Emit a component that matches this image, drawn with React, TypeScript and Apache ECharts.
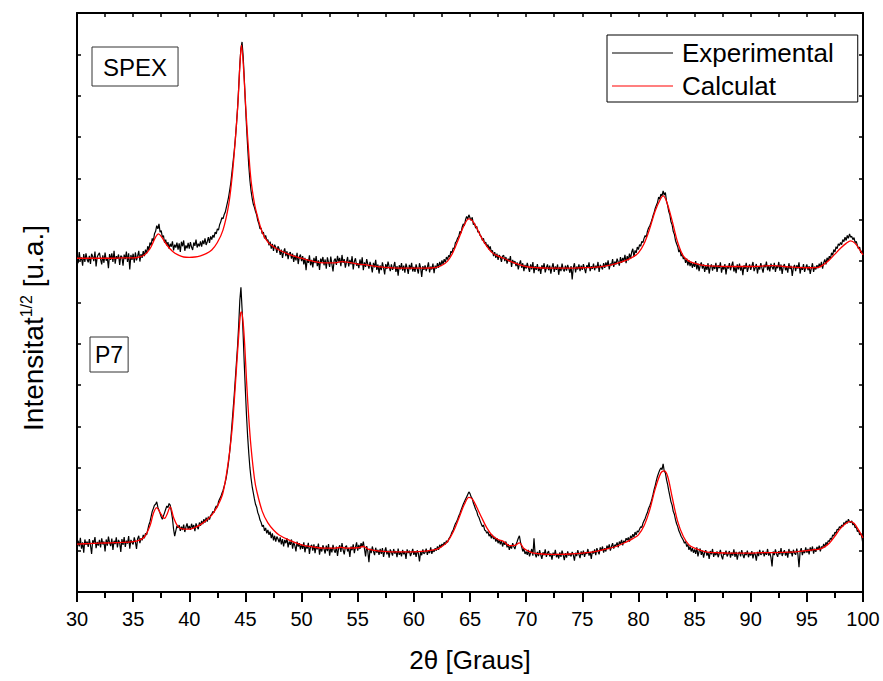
import React, { useEffect, useRef } from "react";
import * as echarts from "echarts";

const FONT = "'Liberation Sans', Arial, Helvetica, sans-serif";

// 2θ sampling of the measured patterns
const angleStart = 30;
const angleStep = 0.1;

// SPEX measured pattern (sqrt intensity, arbitrary units), 30.0 .. 100.0 step 0.1
const spexExperimental = [
  8.15, 7.95, 8.22, 8.02, 8.09, 7.89, 8.17, 7.98, 8.19, 8.04,
  7.97, 8.13, 7.93, 8.18, 8.11, 8.00, 8.23, 7.87, 8.10, 8.16,
  8.20, 8.05, 7.92, 8.14, 7.96, 8.21, 8.01, 8.08, 7.83, 8.17,
  8.03, 8.19, 7.98, 8.25, 7.94, 8.12, 8.06, 8.16, 7.91, 8.13,
  8.10, 7.89, 8.16, 8.05, 8.23, 7.98, 8.19, 7.80, 8.15, 8.03,
  8.18, 7.96, 8.21, 8.02, 8.12, 8.25, 7.99, 8.17, 8.08, 8.24,
  8.12, 8.28, 8.19, 8.36, 8.27, 8.45, 8.38, 8.55, 8.49, 8.66,
  8.72, 8.86, 8.78, 8.90, 8.70, 8.74, 8.58, 8.62, 8.45, 8.52,
  8.38, 8.46, 8.30, 8.42, 8.35, 8.48, 8.26, 8.40, 8.33, 8.45,
  8.28, 8.43, 8.22, 8.47, 8.36, 8.50, 8.25, 8.38, 8.31, 8.44,
  8.30, 8.46, 8.34, 8.27, 8.45, 8.37, 8.52, 8.33, 8.42, 8.36,
  8.48, 8.35, 8.50, 8.41, 8.55, 8.39, 8.47, 8.58, 8.44, 8.60,
  8.52, 8.63, 8.57, 8.70, 8.66, 8.78, 8.75, 8.88, 8.95, 9.05,
  9.02, 9.12, 9.18, 9.30, 9.42, 9.55, 9.72, 9.90, 10.15, 10.40,
  10.65, 10.95, 11.30, 11.70, 12.20, 12.75, 13.15, 13.30, 12.95, 12.40,
  11.80, 11.25, 10.75, 10.30, 9.95, 9.70, 9.52, 9.38, 9.30, 9.20,
  9.12, 8.98, 8.90, 8.78, 8.80, 8.66, 8.70, 8.55, 8.62, 8.50,
  8.52, 8.38, 8.47, 8.30, 8.42, 8.25, 8.40, 8.33, 8.20, 8.36,
  8.30, 8.15, 8.28, 8.08, 8.22, 8.31, 8.12, 8.24, 8.05, 8.19,
  8.22, 8.06, 8.18, 7.98, 8.14, 8.02, 8.20, 7.93, 8.10, 8.16,
  8.00, 8.12, 7.92, 8.08, 7.78, 8.05, 7.96, 8.14, 7.90, 8.03,
  7.85, 8.08, 7.95, 8.12, 7.88, 8.02, 7.79, 8.06, 7.98, 8.10,
  7.90, 8.04, 7.82, 8.09, 7.97, 7.86, 8.11, 7.93, 7.75, 8.02,
  8.06, 7.91, 8.13, 7.99, 8.08, 7.88, 8.15, 7.96, 8.05, 7.84,
  7.98, 8.10, 7.87, 8.03, 7.92, 8.12, 7.80, 7.99, 8.07, 7.89,
  7.95, 7.83, 8.04, 7.90, 8.09, 7.78, 7.97, 7.86, 8.05, 7.92,
  7.82, 7.98, 7.88, 7.73, 7.96, 7.85, 8.03, 7.79, 7.92, 7.70,
  7.90, 7.78, 7.97, 7.84, 7.68, 7.93, 7.81, 7.99, 7.87, 7.76,
  7.92, 7.79, 7.86, 7.98, 7.74, 7.88, 7.65, 7.90, 7.80, 7.95,
  7.77, 7.89, 7.72, 7.94, 7.83, 7.69, 7.91, 7.80, 7.96, 7.75,
  7.86, 7.74, 7.92, 7.81, 7.70, 7.95, 7.84, 7.62, 7.88, 7.79,
  7.90, 7.76, 7.85, 7.97, 7.73, 7.87, 7.80, 7.94, 7.71, 7.89,
  7.82, 7.95, 7.84, 7.98, 7.88, 8.02, 7.92, 8.05, 7.97, 8.10,
  8.04, 8.14, 8.10, 8.24, 8.20, 8.32, 8.30, 8.45, 8.48, 8.56,
  8.60, 8.72, 8.68, 8.82, 8.90, 8.86, 9.00, 9.08, 9.02, 9.12,
  9.05, 8.98, 9.06, 8.88, 8.92, 8.80, 8.84, 8.70, 8.72, 8.62,
  8.60, 8.50, 8.55, 8.42, 8.46, 8.35, 8.40, 8.28, 8.36, 8.22,
  8.26, 8.12, 8.22, 8.08, 8.18, 8.03, 8.15, 8.10, 7.98, 8.12,
  8.14, 8.00, 8.10, 7.94, 8.06, 7.99, 8.12, 7.86, 8.03, 7.95,
  8.00, 7.88, 7.97, 7.80, 7.93, 8.02, 7.84, 7.95, 7.76, 7.91,
  7.82, 7.96, 7.85, 7.74, 7.92, 7.80, 7.98, 7.71, 7.88, 7.79,
  7.93, 7.76, 7.86, 7.69, 7.90, 7.81, 7.95, 7.73, 7.84, 7.92,
  7.78, 7.89, 7.70, 7.85, 7.95, 7.74, 7.87, 7.79, 7.92, 7.67,
  7.86, 7.76, 7.94, 7.80, 7.75, 7.89, 7.77, 7.91, 7.82, 7.72,
  7.88, 7.56, 7.84, 7.95, 7.73, 7.87, 7.80, 7.92, 7.76, 7.89,
  7.79, 7.93, 7.82, 7.71, 7.90, 7.84, 7.97, 7.76, 7.88, 7.81,
  7.94, 7.78, 7.89, 7.83, 7.98, 7.74, 7.91, 7.86, 7.80, 7.95,
  7.84, 7.97, 7.88, 8.02, 7.80, 7.94, 7.90, 8.05, 7.86, 7.99,
  7.92, 8.06, 7.98, 7.89, 8.10, 7.96, 8.08, 8.00, 8.15, 7.95,
  8.12, 8.02, 8.18, 8.06, 8.22, 8.30, 8.10, 8.26, 8.20, 8.34,
  8.28, 8.40, 8.36, 8.48, 8.45, 8.55, 8.62, 8.58, 8.72, 8.80,
  8.85, 8.92, 9.00, 9.10, 9.18, 9.28, 9.35, 9.42, 9.55, 9.50,
  9.62, 9.58, 9.70, 9.60, 9.66, 9.45, 9.35, 9.20, 9.12, 8.95,
  8.88, 8.72, 8.65, 8.50, 8.42, 8.35, 8.22, 8.28, 8.12, 8.18,
  8.05, 8.10, 7.96, 8.06, 7.90, 8.02, 7.88, 7.98, 7.84, 7.95,
  7.86, 8.00, 7.80, 7.94, 7.76, 7.90, 7.97, 7.82, 7.92, 7.74,
  7.88, 7.79, 7.95, 7.70, 7.86, 7.92, 7.77, 7.89, 7.81, 7.96,
  7.74, 7.90, 7.83, 7.97, 7.72, 7.87, 7.80, 7.93, 7.68, 7.88,
  7.82, 7.95, 7.78, 7.89, 7.99, 7.75, 7.86, 7.71, 7.92, 7.80,
  7.94, 7.77, 7.88, 7.66, 7.90, 7.81, 7.96, 7.74, 7.85, 7.92,
  7.79, 7.88, 7.98, 7.76, 7.84, 7.93, 7.70, 7.87, 7.80, 7.95,
  7.83, 7.72, 7.91, 7.85, 7.99, 7.78, 7.89, 7.75, 7.94, 7.86,
  7.80, 7.96, 7.74, 7.88, 7.83, 7.98, 7.77, 7.92, 7.69, 7.87,
  7.93, 7.78, 7.86, 7.72, 7.95, 7.81, 7.89, 7.64, 7.84, 7.91,
  7.76, 7.90, 7.82, 7.97, 7.70, 7.86, 7.79, 7.93, 7.74, 7.85,
  7.92, 7.78, 7.88, 7.69, 7.83, 7.95, 7.74, 7.87, 7.80, 7.90,
  7.83, 7.94, 7.86, 7.98, 7.82, 7.96, 8.04, 7.92, 8.08, 8.01,
  8.12, 8.06, 8.20, 8.14, 8.28, 8.22, 8.35, 8.30, 8.42, 8.38,
  8.45, 8.40, 8.52, 8.47, 8.58, 8.50, 8.62, 8.55, 8.66, 8.58,
  8.60, 8.52, 8.57, 8.45, 8.48, 8.38, 8.30, 8.34, 8.20, 8.25,
  8.12,
];

// P7 measured pattern, 30.0 .. 100.0 step 0.1
const p7Experimental = [
  1.02, 1.24, 1.10, 1.31, 1.05, 1.20, 0.95, 1.27, 1.14, 1.22,
  1.09, 1.28, 1.13, 0.92, 1.25, 1.18, 1.33, 1.06, 1.21, 1.12,
  1.26, 1.08, 1.30, 1.15, 1.22, 0.98, 1.27, 1.12, 1.34, 1.19,
  1.11, 1.29, 1.02, 1.24, 1.16, 1.32, 1.08, 1.26, 1.19, 0.97,
  1.28, 1.14, 1.33, 1.09, 1.24, 1.17, 1.35, 1.05, 1.26, 1.20,
  1.15, 1.32, 1.21, 1.04, 1.29, 1.36, 1.18, 1.30, 1.25, 1.38,
  1.30, 1.42, 1.38, 1.50, 1.62, 1.70, 1.82, 1.95, 2.02, 2.10,
  2.12, 2.18, 2.05, 1.98, 1.90, 1.82, 1.76, 1.84, 1.92, 2.00,
  2.08, 2.04, 2.14, 2.10, 1.95, 1.78, 1.52, 1.35, 1.48, 1.60,
  1.55, 1.62, 1.48, 1.58, 1.50, 1.63, 1.45, 1.57, 1.66, 1.52,
  1.60, 1.50, 1.65, 1.55, 1.62, 1.47, 1.66, 1.58, 1.52, 1.68,
  1.60, 1.72, 1.64, 1.76, 1.68, 1.80, 1.70, 1.82, 1.75, 1.85,
  1.88, 1.95, 1.92, 2.02, 2.08, 2.05, 2.18, 2.25, 2.30, 2.38,
  2.45, 2.55, 2.65, 2.78, 2.95, 3.15, 3.40, 3.70, 4.05, 4.40,
  4.75, 5.15, 5.55, 5.95, 6.45, 7.05, 7.37, 6.85, 6.20, 5.50,
  4.85, 4.25, 3.75, 3.35, 3.00, 2.75, 2.55, 2.40, 2.25, 2.12,
  2.05, 1.92, 1.85, 1.74, 1.68, 1.58, 1.62, 1.48, 1.55, 1.42,
  1.50, 1.38, 1.46, 1.30, 1.42, 1.25, 1.36, 1.22, 1.34, 1.28,
  1.20, 1.32, 1.15, 1.28, 1.10, 1.26, 1.18, 1.30, 1.08, 1.22,
  1.14, 1.27, 1.05, 1.20, 1.12, 0.98, 1.22, 1.10, 1.18, 1.03,
  1.16, 1.04, 1.20, 0.96, 1.12, 1.05, 1.19, 0.92, 1.10, 1.14,
  1.00, 1.15, 0.94, 1.11, 1.03, 1.17, 0.90, 1.08, 0.98, 1.13,
  1.04, 0.93, 1.12, 0.99, 1.16, 0.88, 1.07, 0.96, 1.14, 1.01,
  0.95, 1.10, 0.87, 1.06, 1.13, 0.97, 1.18, 1.02, 0.91, 1.09,
  1.12, 0.98, 1.06, 0.85, 1.10, 1.01, 1.15, 0.94, 1.08, 1.20,
  1.00, 1.14, 1.04, 1.18, 1.09, 1.22, 1.05, 0.86, 1.11, 0.98,
  0.72, 1.05, 0.94, 1.10, 0.99, 0.89, 1.07, 0.95, 1.02, 0.90,
  1.04, 0.92, 1.06, 0.85, 0.98, 1.08, 0.91, 1.00, 0.83, 1.03,
  0.96, 0.88, 1.04, 0.93, 0.99, 0.84, 1.05, 0.90, 0.97, 0.86,
  1.02, 0.91, 0.98, 0.80, 1.03, 0.94, 1.00, 0.87, 0.95, 1.04,
  0.90, 0.99, 0.85, 1.01, 0.93, 0.74, 0.97, 0.89, 1.03, 0.92,
  0.96, 1.05, 0.90, 1.00, 0.94, 1.08, 0.92, 1.02, 0.97, 1.06,
  1.00, 1.10, 1.02, 1.14, 1.08, 1.16, 1.12, 1.20, 1.15, 1.24,
  1.20, 1.28, 1.32, 1.38, 1.45, 1.50, 1.58, 1.65, 1.70, 1.76,
  1.84, 1.90, 1.98, 2.05, 2.12, 2.18, 2.24, 2.30, 2.36, 2.42,
  2.38, 2.30, 2.26, 2.15, 2.08, 2.00, 1.95, 1.85, 1.80, 1.72,
  1.65, 1.58, 1.62, 1.50, 1.48, 1.42, 1.46, 1.35, 1.40, 1.30,
  1.38, 1.28, 1.33, 1.22, 1.30, 1.18, 1.26, 1.15, 1.24, 1.10,
  1.20, 1.14, 1.22, 1.08, 1.16, 1.02, 1.12, 1.05, 1.18, 1.10,
  1.04, 1.15, 1.22, 1.30, 1.36, 1.20, 1.10, 0.98, 1.05, 0.92,
  0.98, 0.90, 1.02, 0.86, 0.95, 1.04, 0.88, 1.30, 0.92, 0.84,
  0.97, 0.87, 1.01, 0.90, 0.80, 0.96, 0.89, 1.03, 0.85, 0.94,
  0.99, 0.86, 0.93, 0.78, 0.95, 0.88, 1.02, 0.84, 0.92, 0.81,
  0.96, 0.85, 1.00, 0.89, 0.77, 0.94, 0.83, 0.98, 0.88, 0.93,
  0.86, 0.97, 0.90, 0.76, 0.95, 0.87, 1.01, 0.91, 0.82, 0.98,
  0.89, 1.00, 0.85, 0.96, 0.92, 1.04, 0.88, 0.97, 0.80, 0.99,
  0.93, 1.03, 0.89, 1.06, 0.98, 0.91, 1.08, 1.00, 1.10, 0.95,
  1.06, 0.98, 1.12, 1.04, 1.15, 1.00, 1.10, 1.18, 1.05, 1.14,
  1.12, 1.20, 1.08, 1.22, 1.16, 1.26, 1.13, 1.24, 1.19, 1.30,
  1.25, 1.32, 1.22, 1.36, 1.30, 1.40, 1.33, 1.45, 1.38, 1.48,
  1.45, 1.52, 1.58, 1.56, 1.66, 1.72, 1.78, 1.86, 1.92, 2.02,
  2.08, 2.15, 2.25, 2.36, 2.48, 2.58, 2.70, 2.80, 2.88, 2.95,
  3.00, 2.96, 3.10, 2.92, 2.88, 2.72, 2.60, 2.45, 2.32, 2.18,
  2.10, 1.95, 1.88, 1.75, 1.65, 1.58, 1.48, 1.42, 1.35, 1.30,
  1.25, 1.18, 1.22, 1.10, 1.15, 1.02, 1.10, 0.98, 1.06, 0.95,
  1.03, 0.92, 1.08, 0.86, 0.98, 1.05, 0.90, 1.00, 0.83, 0.96,
  1.01, 0.88, 0.96, 0.80, 0.99, 0.91, 1.04, 0.85, 0.95, 0.89,
  0.98, 0.84, 0.93, 1.02, 0.87, 0.79, 0.96, 0.90, 1.00, 0.86,
  0.92, 0.99, 0.83, 0.95, 0.88, 1.03, 0.85, 0.97, 0.78, 0.93,
  0.97, 0.86, 1.01, 0.90, 0.82, 0.96, 0.89, 1.00, 0.84, 0.94,
  0.88, 0.99, 0.81, 0.95, 0.91, 0.76, 0.97, 0.87, 1.02, 0.90,
  0.93, 1.00, 0.86, 0.97, 0.90, 1.04, 0.88, 0.96, 0.84, 0.62,
  0.98, 0.89, 1.03, 0.92, 0.85, 0.99, 0.91, 1.06, 0.87, 0.95,
  1.01, 0.88, 0.97, 0.83, 1.04, 0.93, 0.99, 0.86, 1.02, 0.94,
  0.90, 1.05, 0.92, 0.60, 0.98, 1.06, 0.89, 1.00, 0.94, 1.08,
  0.95, 1.04, 0.91, 1.08, 0.99, 1.10, 0.93, 1.05, 0.97, 1.09,
  1.02, 1.12, 0.98, 1.10, 1.06, 1.16, 1.08, 1.20, 1.14, 1.24,
  1.22, 1.30, 1.27, 1.38, 1.35, 1.45, 1.42, 1.52, 1.50, 1.58,
  1.55, 1.62, 1.58, 1.68, 1.64, 1.72, 1.66, 1.76, 1.70, 1.68,
  1.72, 1.62, 1.66, 1.55, 1.58, 1.46, 1.50, 1.38, 1.42, 1.32,
  1.15,
];

// Calculated (fitted) profiles: [2θ, value]
const spexCalculated = [
  [30, 8.07], [31, 8.07], [32, 8.07], [33, 8.07], [34, 8.08], [35, 8.08], [35.5, 8.1],
  [36, 8.15], [36.5, 8.3], [37, 8.58], [37.25, 8.66], [37.5, 8.6], [38, 8.39], [38.5, 8.24],
  [39, 8.15], [39.5, 8.1], [40, 8.09], [40.5, 8.1], [41, 8.13], [41.5, 8.18], [42, 8.27],
  [42.5, 8.45], [43, 8.75], [43.5, 9.35], [43.8, 10.0], [44.0, 10.6], [44.2, 11.3],
  [44.35, 11.9], [44.5, 12.7], [44.65, 13.22], [44.8, 12.8], [44.95, 12.1], [45.1, 11.4],
  [45.3, 10.6], [45.5, 9.95], [45.8, 9.4], [46.0, 9.16], [46.5, 8.7], [47, 8.46],
  [47.5, 8.35], [48, 8.27], [49, 8.15], [50, 8.07], [51, 8.0], [52, 7.96], [53, 7.96],
  [53.6, 7.99], [54.2, 7.97], [55, 7.93], [56, 7.9], [57, 7.86], [58, 7.84], [59, 7.83],
  [60, 7.83], [61, 7.83], [62, 7.85], [62.5, 7.9], [63, 8.0], [63.5, 8.22], [64, 8.55],
  [64.5, 8.88], [64.9, 9.02], [65.2, 8.98], [65.6, 8.8], [66, 8.58], [66.5, 8.36],
  [67, 8.2], [67.5, 8.12], [68, 8.07], [69, 7.95], [70, 7.87], [71, 7.84], [72, 7.83],
  [73, 7.83], [74, 7.83], [75, 7.84], [76, 7.85], [77, 7.88], [78, 7.94], [79, 8.03],
  [79.5, 8.1], [80, 8.2], [80.5, 8.42], [81, 8.78], [81.5, 9.22], [82, 9.52],
  [82.2, 9.58], [82.5, 9.45], [83, 8.98], [83.5, 8.45], [84, 8.12], [84.5, 8.0], [85, 7.95],
  [86, 7.89], [87, 7.88], [88, 7.87], [89, 7.87], [90, 7.87], [91, 7.88], [92, 7.89],
  [93, 7.87], [94, 7.85], [95, 7.84], [96, 7.85], [96.5, 7.92], [97, 8.03], [97.5, 8.17],
  [98, 8.31], [98.5, 8.43], [98.9, 8.49], [99.3, 8.43], [99.7, 8.28], [100, 8.15],
];

const p7Calculated = [
  [30, 1.16], [31, 1.17], [32, 1.18], [33, 1.19], [34, 1.2], [35, 1.22], [35.5, 1.25],
  [36, 1.33], [36.5, 1.6], [36.8, 1.9], [37.1, 2.04], [37.4, 1.92], [37.8, 1.78],
  [38.05, 1.9], [38.3, 2.06], [38.6, 1.8], [39, 1.58], [39.5, 1.52], [40, 1.52],
  [40.5, 1.56], [41, 1.63], [41.5, 1.73], [42, 1.86], [42.5, 2.07], [43, 2.4], [43.5, 3.2],
  [43.8, 3.9], [44.0, 4.6], [44.2, 5.4], [44.4, 6.2], [44.55, 6.7], [44.65, 6.77],
  [44.8, 6.5], [44.95, 5.9], [45.1, 5.1], [45.3, 4.2], [45.5, 3.5], [45.8, 2.75],
  [46, 2.45], [46.5, 1.95], [47, 1.67], [47.5, 1.5], [48, 1.38], [49, 1.24], [50, 1.14],
  [51, 1.09], [52, 1.06], [53, 1.06], [53.5, 1.08], [54, 1.06], [55, 1.07], [55.5, 1.1],
  [56, 1.03], [57, 0.99], [58, 0.97], [59, 0.97], [60, 0.97], [61, 0.99], [62, 1.03],
  [62.5, 1.1], [63, 1.22], [63.5, 1.45], [64, 1.78], [64.5, 2.12], [64.9, 2.29],
  [65.2, 2.25], [65.6, 2.05], [66, 1.82], [66.5, 1.55], [67, 1.36], [67.5, 1.27],
  [68, 1.22], [68.5, 1.12], [69, 1.13], [69.4, 1.19], [69.8, 1.05], [70.5, 0.95],
  [71, 0.93], [72, 0.91], [73, 0.91], [74, 0.92], [75, 0.94], [76, 0.97], [77, 1.03],
  [78, 1.1], [79, 1.22], [79.5, 1.29], [80, 1.38], [80.5, 1.6], [81, 1.98], [81.5, 2.5],
  [82, 2.88], [82.3, 2.93], [82.6, 2.8], [83, 2.3], [83.5, 1.7], [84, 1.34], [84.5, 1.14],
  [85, 1.06], [86, 0.97], [87, 0.95], [88, 0.94], [89, 0.94], [90, 0.94], [91, 0.95],
  [92, 0.95], [93, 0.96], [94, 0.97], [95, 1.0], [95.5, 1.02], [96, 1.03], [96.5, 1.08],
  [97, 1.18], [97.5, 1.35], [98, 1.54], [98.5, 1.66], [98.8, 1.7], [99.2, 1.66],
  [99.6, 1.5], [100, 1.31],
];

const xTickLabels = ["30", "35", "40", "45", "50", "55", "60", "65", "70", "75", "80", "85", "90", "95", "100"];
const legendNames = ["Experimental", "Calculat"];
const sampleLabels = ["SPEX", "P7"];

function toPairs(values: number[]) {
  return values.map((v, i) => [+(angleStart + i * angleStep).toFixed(2), v]);
}

export default function App() {
  const ref = useRef<HTMLDivElement>(null);

  useEffect(() => {
    if (!ref.current) return;
    const chart = echarts.init(ref.current, null, { renderer: "svg" });

    const axisLine = { show: true, onZero: false, lineStyle: { color: "#000", width: 2 } };
    const innerTick = { show: true, inside: true, length: 4, lineStyle: { color: "#000", width: 1.5 } };

    const option: any = {
      animation: false,
      backgroundColor: "#fff",
      grid: { left: 77, top: 13, right: 20, bottom: 89, containLabel: false },
      legend: {
        left: 607,
        top: 35,
        orient: "vertical",
        data: legendNames.map((n) => ({ name: n, icon: "rect" })),
        itemWidth: 61,
        itemHeight: 1.2,
        itemGap: 7,
        padding: [5, 24, 3, 5],
        borderColor: "#000",
        borderWidth: 1,
        selectedMode: false,
        textStyle: { fontSize: 26, color: "#000", fontFamily: FONT, lineHeight: 26, padding: [0, 0, 0, 4] },
      },
      xAxis: [
        {
          type: "value",
          position: "bottom",
          min: 30,
          max: 100,
          interval: 5,
          axisLine,
          axisTick: { show: true, inside: false, length: 10, lineStyle: { color: "#000", width: 2 } },
          minorTick: { show: true, splitNumber: 2, length: 6, lineStyle: { color: "#000", width: 2 } },
          splitLine: { show: false },
          minorSplitLine: { show: false },
          axisLabel: {
            show: true,
            margin: 17,
            color: "#000",
            fontSize: 20,
            fontFamily: FONT,
            formatter: (v: number) => {
              const idx = Math.round((v - 30) / 5);
              return xTickLabels[idx] ?? "";
            },
          },
          name: "2θ [Graus]",
          nameLocation: "middle",
          nameGap: 55,
          nameTextStyle: { fontSize: 26, color: "#000", fontFamily: FONT },
        },
        {
          type: "value",
          position: "top",
          min: 30,
          max: 100,
          interval: 2.5,
          axisLine,
          axisTick: innerTick,
          axisLabel: { show: false },
          splitLine: { show: false },
        },
      ],
      yAxis: [
        {
          type: "value",
          position: "left",
          min: 0,
          max: 14,
          interval: 1,
          axisLine,
          axisTick: innerTick,
          axisLabel: { show: false },
          splitLine: { show: false },
        },
        {
          type: "value",
          position: "right",
          min: 0,
          max: 14,
          interval: 1,
          axisLine,
          axisTick: innerTick,
          axisLabel: { show: false },
          splitLine: { show: false },
        },
      ],
      series: [
        {
          name: legendNames[0],
          type: "line",
          data: toPairs(spexExperimental),
          symbol: "none",
          lineStyle: { color: "#000", width: 1.2 },
          itemStyle: { color: "#000" },
        },
        {
          name: legendNames[1],
          type: "line",
          data: spexCalculated,
          symbol: "none",
          smooth: 0.35,
          lineStyle: { color: "#ff0000", width: 1.3 },
          itemStyle: { color: "#ff0000" },
        },
        {
          name: legendNames[0],
          type: "line",
          data: toPairs(p7Experimental),
          symbol: "none",
          lineStyle: { color: "#000", width: 1.2 },
          itemStyle: { color: "#000" },
        },
        {
          name: legendNames[1],
          type: "line",
          data: p7Calculated,
          symbol: "none",
          smooth: 0.35,
          lineStyle: { color: "#ff0000", width: 1.3 },
          itemStyle: { color: "#ff0000" },
        },
      ],
      graphic: [
        {
          type: "text",
          x: 92,
          y: 47,
          style: {
            text: sampleLabels[0],
            fontSize: 24,
            fontFamily: FONT,
            fill: "#000",
            align: "left",
            verticalAlign: "top",
            borderColor: "#333",
            borderWidth: 1,
            padding: [8, 11, 7, 11],
            lineHeight: 24,
          },
        },
        {
          type: "text",
          x: 90,
          y: 337,
          style: {
            text: sampleLabels[1],
            fontSize: 23,
            fontFamily: FONT,
            fill: "#000",
            align: "left",
            verticalAlign: "top",
            borderColor: "#333",
            borderWidth: 1,
            padding: [6, 5, 6, 5],
            lineHeight: 23,
          },
        },
        {
          type: "text",
          x: 33,
          y: 328,
          rotation: Math.PI / 2,
          style: {
            text: "{a|Intensitat}{s|1/2}{a| [u.a.]}",
            align: "center",
            verticalAlign: "middle",
            fill: "#000",
            rich: {
              a: { fontSize: 28, fontFamily: FONT, fill: "#000", lineHeight: 30 },
              s: { fontSize: 16, fontFamily: FONT, fill: "#000", lineHeight: 16, verticalAlign: "top" },
            },
          },
        },
      ],
    };

    chart.setOption(option);
    return () => chart.dispose();
  }, []);

  return (
    <div
      ref={ref}
      style={{ position: "fixed", left: 0, top: 0, width: 883, height: 681, background: "#fff" }}
    />
  );
}
